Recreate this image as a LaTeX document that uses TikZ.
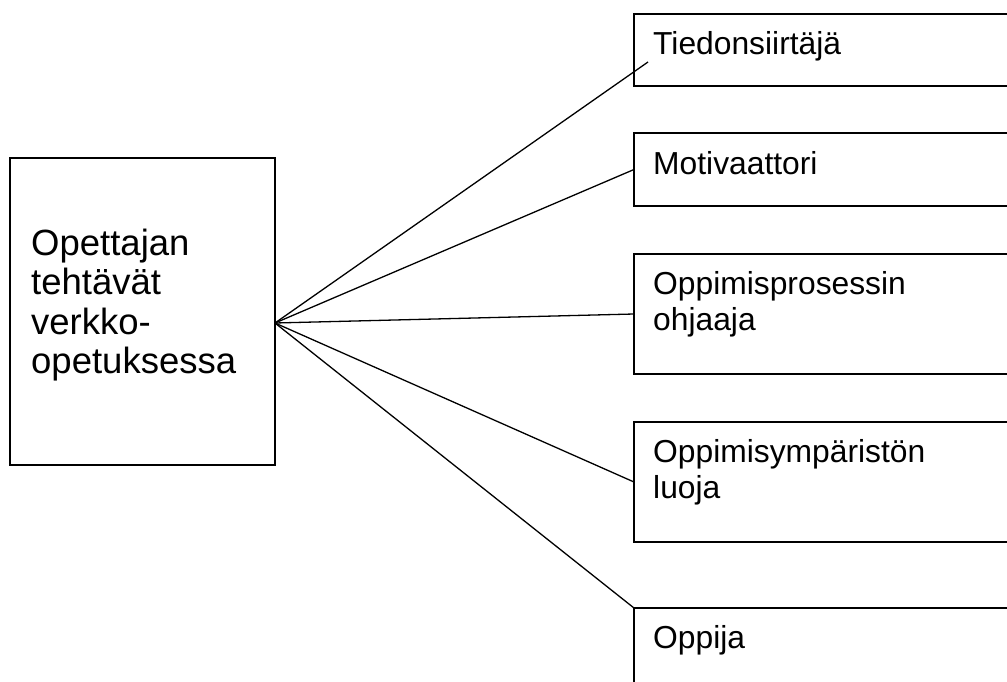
\documentclass[tikz,border=0pt]{standalone}
\usepackage{fontspec}
\setmainfont{Liberation Sans}
\usetikzlibrary{positioning, calc}

\begin{document}
\begin{tikzpicture}[
    x=1pt, y=-1pt,
    every node/.style={inner sep=0pt},
    mainbox/.style={draw=black, line width=2pt, anchor=north west,
                    outer sep=0pt, minimum width=265pt, minimum height=307pt},
    rolebox/.style={draw=black, line width=2pt, outer sep=0pt,
                    minimum width=400pt},
    maintext/.style={anchor=base west, align=left, text width=240pt,
                     font=\fontsize{36.5pt}{39.5pt}\selectfont},
    roletext/.style={anchor=base west, align=left, text width=340pt,
                     font=\fontsize{31.8pt}{36.5pt}\selectfont},
    link/.style={line width=1.3pt, draw=black},
    node distance=47pt,
    ]

% page frame
\useasboundingbox (0,0) rectangle (1007,682);
\clip (0,0) rectangle (1007,682);
\fill[white] (0,0) rectangle (1007,682);

% ------------------------------------------------------------------
% Left box
% ------------------------------------------------------------------
\node[mainbox] (teacher) at (10,158) {};
\node[maintext] (teachertxt) at ($(teacher.north west)+(21,97)$)
  {Opettajan\\tehtävät\\verkko-\\opetuksessa};
\coordinate (hub) at ($(teacher.east)+(0,11.5)$);

% ------------------------------------------------------------------
% Role boxes (right column)
% ------------------------------------------------------------------
\node[rolebox, minimum height=72pt, anchor=north west] (tied) at (634,14) {};
\node[rolebox, minimum height=73pt, below=of tied] (motiv) {};
\node[rolebox, minimum height=120pt, below=48pt of motiv] (ohjaaja) {};
\node[rolebox, minimum height=120pt, below=48pt of ohjaaja] (luoja) {};
\node[rolebox, minimum height=120pt, below=66pt of luoja] (oppija) {};

% role labels
\node[roletext] (tiedtxt) at ($(tied.north west)+(19,41)$) {Tiedonsiirtäjä};
\node[roletext] (motivtxt) at ($(motiv.north west)+(19,42)$) {Motivaattori};
\node[roletext] (ohjaajatxt) at ($(ohjaaja.north west)+(19,40)$)
  {Oppimisprosessin\\ohjaaja};
\node[roletext] (luojatxt) at ($(luoja.north west)+(19,40)$)
  {Oppimisympäristön\\luoja};
\node[roletext] (oppijatxt) at ($(oppija.north west)+(19,40)$) {Oppija};

% ------------------------------------------------------------------
% Connectors fanning out from the hub
% ------------------------------------------------------------------
\coordinate (tiedend) at ($(tied.north west)+(14,48)$);
\draw[link] (hub) -- (tiedend);
\draw[link] (hub) -- (motiv.west);
\draw[link] (hub) -- (ohjaaja.west);
\draw[link] (hub) -- (luoja.west);
\draw[link] (hub) -- (oppija.north west);

\end{tikzpicture}
\end{document}
